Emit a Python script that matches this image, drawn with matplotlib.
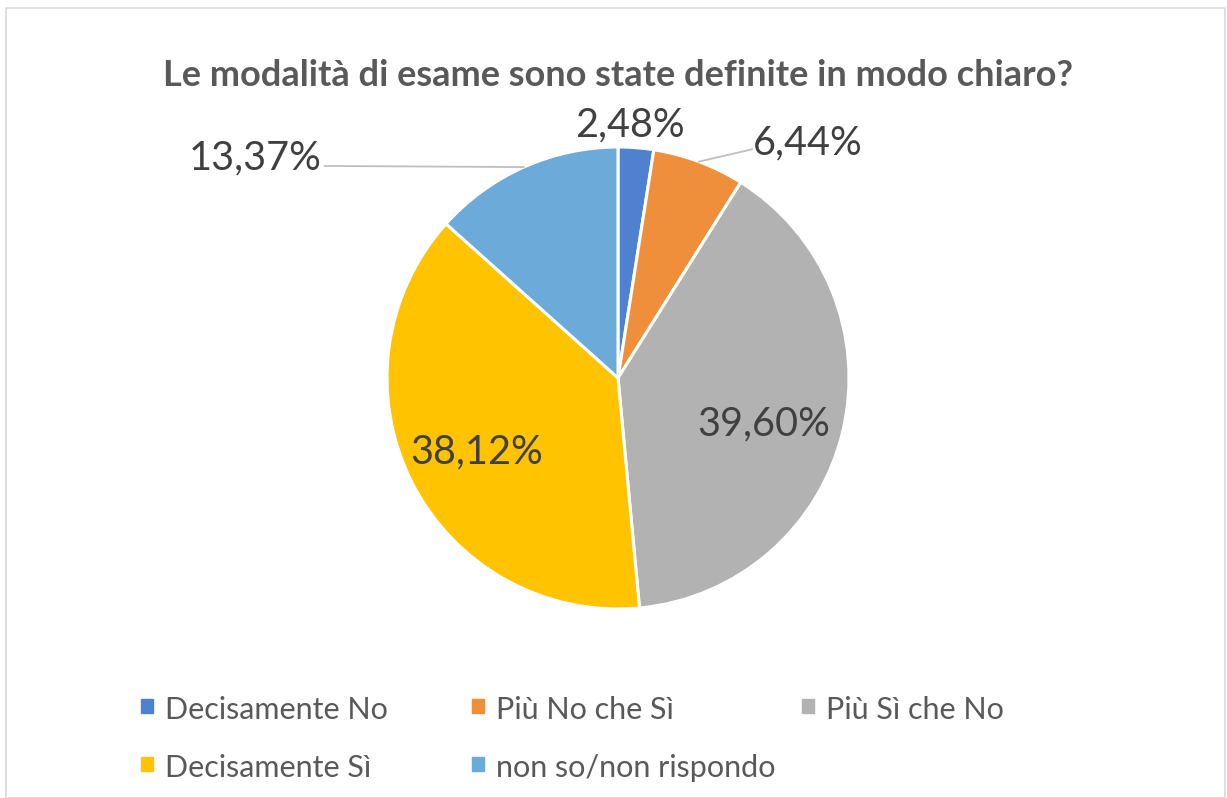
import matplotlib.pyplot as plt
from matplotlib.patches import Rectangle
import numpy as np

plt.rcParams['font.family'] = ['Lato', 'DejaVu Sans']

title = "Le modalità di esame sono state definite in modo chiaro?"
categories = ["Decisamente No", "Più No che Sì", "Più Sì che No",
              "Decisamente Sì", "non so/non rispondo"]
values = [2.48, 6.44, 39.60, 38.12, 13.37]
labels = ["2,48%", "6,44%", "39,60%", "38,12%", "13,37%"]
colors = ["#4E81CF", "#EF8F3B", "#B2B2B2", "#FFC300", "#6BAAD9"]

W, H = 1227, 798
cx, cy, R = 618, 420, 231   # pie centre (px from bottom-left) and radius

fig = plt.figure(figsize=(W / 100, H / 100), dpi=100)
fig.patches.append(Rectangle((6 / W, 0), 1219 / W, 790 / H, transform=fig.transFigure,
                             fill=False, edgecolor="#D9D9D9", linewidth=1.2))

ax = fig.add_axes([0, 0, 1, 1])
wedges, _ = ax.pie(values, colors=colors, startangle=90, counterclock=False,
                   radius=1, center=(0, 0), frame=True,
                   wedgeprops=dict(edgecolor="white", linewidth=2.2))
ax.set_xlim(-cx / R, (W - cx) / R)
ax.set_ylim(-cy / R, (H - cy) / R)
ax.axis("off")

txt = "#404040"
fs = 28.5
# label placement in pie-radius units, and where the leader line stops
label_pos = [(0.05, 1.095), (0.823, 1.017), (0.63, -0.20), (-0.61, -0.32), (-1.571, 0.952)]
leader_to = [None, (0.58, 0.99), None, None, (-1.27, 0.918)]
for w, lab, pos, lt in zip(wedges, labels, label_pos, leader_to):
    ax.text(pos[0], pos[1], lab, ha="center", va="center", fontsize=fs, color=txt)
    if lt is not None:
        mid = np.deg2rad((w.theta1 + w.theta2) / 2)
        ax.plot([np.cos(mid), lt[0]], [np.sin(mid), lt[1]], color="#BFBFBF", lw=1.3)

fig.text(618 / W, 1 - 76 / H, title, ha="center", va="center", fontsize=26,
         fontweight="bold", color="#595959")

# legend, laid out row by row like the original
col_x = [141, 472, 802]
row_y = [710, 768]
for i, (cat, col) in enumerate(zip(categories, colors)):
    x = col_x[i % 3]
    y = H - row_y[i // 3]
    fig.patches.append(Rectangle((x / W, (y - 3) / H), 12 / W, 14 / H,
                                 transform=fig.transFigure, color=col))
    fig.text((x + 24) / W, y / H, cat, ha="left", va="center", fontsize=22, color="#595959")

fig.savefig("out.png", dpi=100)
